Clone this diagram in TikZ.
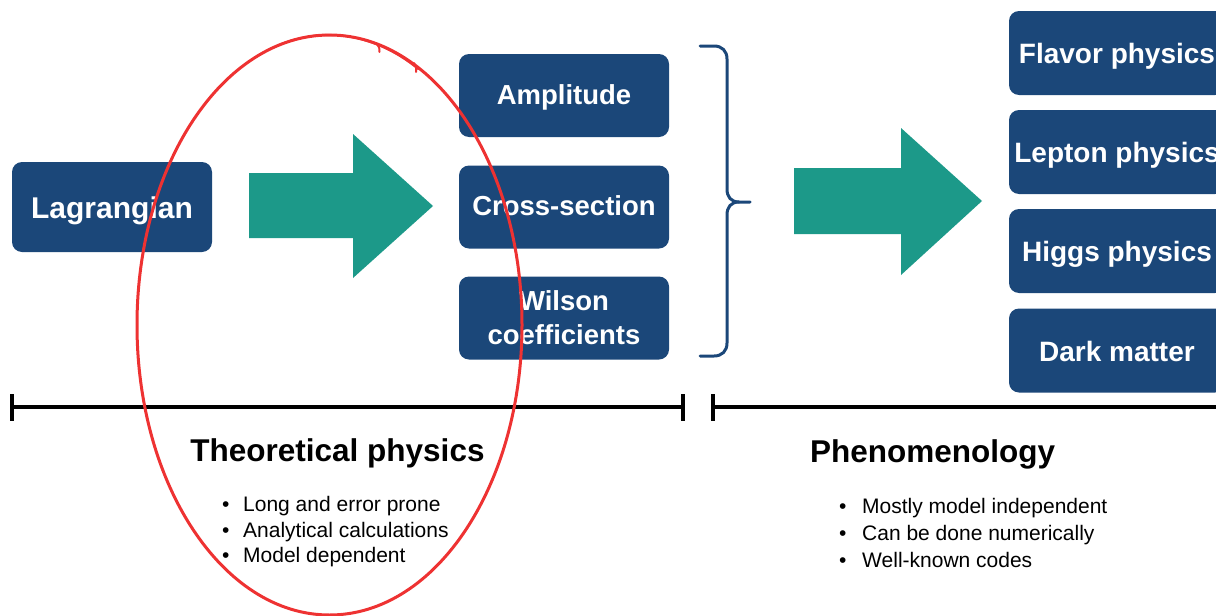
\documentclass[tikz,border=0pt]{standalone}
\usepackage{fontspec}
\setmainfont{Liberation Sans}
\definecolor{boxblue}{RGB}{27,71,121}
\definecolor{flowteal}{RGB}{28,153,137}
\definecolor{penred}{RGB}{238,50,50}

\begin{document}
\begin{tikzpicture}[x=1pt,y=-1pt,
  box/.style={fill=boxblue, rounded corners=10pt, text=white, align=center,
    inner sep=0pt, font=\bfseries\fontsize{27.5}{34}\selectfont},
  oneline/.style={text height=20pt, text depth=3pt},
  midbox/.style={box, minimum width=210pt, minimum height=83pt},
  sidebox/.style={box, text height=21pt, text depth=0pt, minimum width=216pt,
    minimum height=84pt, font=\bfseries\fontsize{28}{34}\selectfont},
  blockarrow/.style={fill=flowteal},
  bar/.style={line width=4pt, black},
  heading/.style={anchor=base, font=\bfseries\fontsize{31.5}{36}\selectfont},
  point/.style={anchor=base west, inner sep=0pt, font=\fontsize{21}{26}\selectfont},
  brace/.style={draw=boxblue, line width=3pt, line cap=round, line join=round},
  pen/.style={draw=penred, line width=3pt, line cap=round}]

\useasboundingbox (0,0) rectangle (1216,616);
\clip (0,0) rectangle (1216,616);

% input box
\node[box, text height=22pt, text depth=0pt, minimum width=200pt, minimum height=90pt,
  font=\bfseries\fontsize{30}{36}\selectfont] (lag) at (112,207) {Lagrangian};

% first block arrow
\fill[blockarrow] (249,173) -- (353,173) -- (353,134) -- (433,206)
  -- (353,278) -- (353,238) -- (249,238) -- cycle;

% intermediate results
\node[midbox, oneline] (amp) at (564,95.5) {Amplitude};
\node[midbox, oneline] (xsec) at (564,207) {Cross-section};
\node[midbox] (wil) at (564,318) {Wilson\\coefficients};

% curly brace grouping the three results
\coordinate (brtop) at (700,46);
\coordinate (brtip) at (750,202);
\coordinate (brbot) at (700,356);
\path[brace] (brtop) -- (714,46) .. controls (722,46) and (727,51) .. (727,59)
  -- (727,189) .. controls (727,197) and (731,202) .. (739,202) -- (brtip);
\path[brace] (739,202) .. controls (731,202) and (727,207) .. (727,215)
  -- (727,343) .. controls (727,351) and (722,356) .. (714,356) -- (brbot);

% second block arrow
\fill[blockarrow] (794,168) -- (901,168) -- (901,128) -- (982,201)
  -- (901,275) -- (901,234) -- (794,234) -- cycle;

% applications
\node[sidebox] (flav) at (1117,53) {Flavor physics};
\node[sidebox] (lep) at (1117,152) {Lepton physics};
\node[sidebox] (higgs) at (1117,251) {Higgs physics};
\node[sidebox] (dm) at (1117,350.5) {Dark matter};

% range bars
\coordinate (la) at (12,407);
\coordinate (lb) at (683,407);
\coordinate (ra) at (713,407);
\coordinate (rb) at (1230,407);
\draw[bar] (la) -- (lb);
\draw[bar] (12,394) -- (12,421);
\draw[bar] (683,394) -- (683,421);
\draw[bar] (ra) -- (rb);
\draw[bar] (713,394) -- (713,421);

% headings
\node[heading] (theo) at (337.5,461) {Theoretical physics};
\node[heading] (pheno) at (932.5,462) {Phenomenology};

% bullet points
\node[point] (t1) at (222,511) {\makebox[21pt][l]{•}Long and error prone};
\node[point] (t2) at (222,537) {\makebox[21pt][l]{•}Analytical calculations};
\node[point] (t3) at (222,562.5) {\makebox[21pt][l]{•}Model dependent};
\node[point] (p1) at (839,513) {\makebox[23pt][l]{•}Mostly model independent};
\node[point] (p2) at (839,540) {\makebox[23pt][l]{•}Can be done numerically};
\node[point] (p3) at (839,567) {\makebox[23pt][l]{•}Well-known codes};

% hand-drawn red loop
\draw[pen] (329.5,325) ellipse [x radius=192.5, y radius=290];
\draw[pen, line width=2pt] (268,50) arc[start angle=-108.5, end angle=-62, x radius=191, y radius=291.5];
\draw[pen, line width=2pt] (377,44) .. controls (379,46) and (380,49) .. (379.5,52);
\draw[pen, line width=2pt] (414,63) .. controls (416,66) and (417,69) .. (416,72);
\end{tikzpicture}
\end{document}
